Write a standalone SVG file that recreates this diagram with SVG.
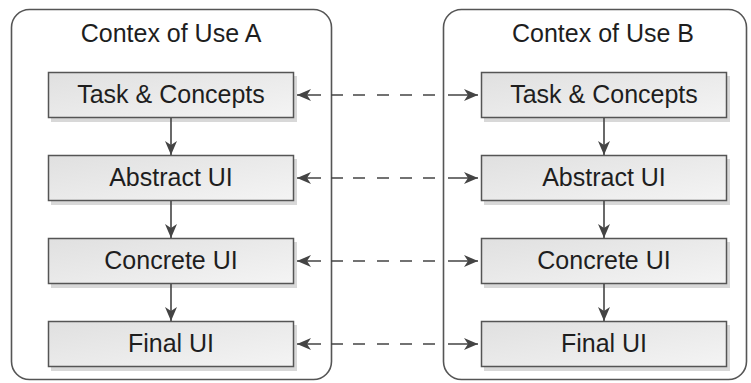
<svg xmlns="http://www.w3.org/2000/svg" width="751" height="383" viewBox="0 0 751 383">
<style>
.ctx{fill:#fff;stroke:#555;stroke-width:1.6}
.box{fill:url(#g);stroke:#555;stroke-width:1.5}
.sh{fill:#d8d8d8}
.t{font-family:"Liberation Sans",Arial,sans-serif;font-size:25px;fill:#1e1e1e;text-anchor:middle}
.v{stroke:#444;stroke-width:1.6;fill:none;marker-end:url(#ah)}
.h{stroke:#444;stroke-width:1.6;fill:none;stroke-dasharray:24 10 12 10 12 12 12 11 12 11 12 13 30;marker-start:url(#ah2);marker-end:url(#ah)}
</style>
<defs>
<linearGradient id="g" x1="0" y1="0" x2="1" y2="1">
<stop offset="0" stop-color="#e0e0e0"/>
<stop offset="1" stop-color="#f4f4f4"/>
</linearGradient>
<marker id="ah" viewBox="0 0 14 12" refX="14" refY="6" markerWidth="14" markerHeight="12" markerUnits="userSpaceOnUse" orient="auto">
<path d="M0,0 L14,6 L0,12 L4,6 Z" fill="#444"/>
</marker>
<marker id="ah2" viewBox="0 0 14 12" refX="0" refY="6" markerWidth="14" markerHeight="12" markerUnits="userSpaceOnUse" orient="auto">
<path d="M14,0 L0,6 L14,12 L10,6 Z" fill="#444"/>
</marker>
</defs>
<g id="contextA">
<rect class="ctx" x="11.5" y="9.5" width="320" height="370" rx="18"/>
<text class="t" x="171" y="42">Contex of Use A</text>
</g>
<g id="contextB">
<rect class="ctx" x="443.5" y="9.5" width="303" height="370" rx="18"/>
<text class="t" x="603" y="42">Contex of Use B</text>
</g>
<g id="a1"><rect class="sh" x="51" y="76" width="246" height="46"/><rect class="box" x="48.5" y="72.5" width="245" height="45"/><text class="t" x="171" y="103">Task &amp; Concepts</text></g>
<g id="a2"><rect class="sh" x="51" y="159" width="246" height="46"/><rect class="box" x="48.5" y="155.5" width="245" height="45"/><text class="t" x="171" y="186">Abstract UI</text></g>
<g id="a3"><rect class="sh" x="51" y="242" width="246" height="46"/><rect class="box" x="48.5" y="238.5" width="245" height="45"/><text class="t" x="171" y="269">Concrete UI</text></g>
<g id="a4"><rect class="sh" x="51" y="325" width="246" height="46"/><rect class="box" x="48.5" y="321.5" width="245" height="45"/><text class="t" x="171" y="352">Final UI</text></g>
<g id="b1"><rect class="sh" x="484" y="76" width="246" height="46"/><rect class="box" x="481.5" y="72.5" width="245" height="45"/><text class="t" x="604" y="103">Task &amp; Concepts</text></g>
<g id="b2"><rect class="sh" x="484" y="159" width="246" height="46"/><rect class="box" x="481.5" y="155.5" width="245" height="45"/><text class="t" x="604" y="186">Abstract UI</text></g>
<g id="b3"><rect class="sh" x="484" y="242" width="246" height="46"/><rect class="box" x="481.5" y="238.5" width="245" height="45"/><text class="t" x="604" y="269">Concrete UI</text></g>
<g id="b4"><rect class="sh" x="484" y="325" width="246" height="46"/><rect class="box" x="481.5" y="321.5" width="245" height="45"/><text class="t" x="604" y="352">Final UI</text></g>
<g id="connectors">
<path class="v" d="M171,118 V155"/>
<path class="v" d="M171,201 V238"/>
<path class="v" d="M171,284 V321"/>
<path class="v" d="M604,118 V155"/>
<path class="v" d="M604,201 V238"/>
<path class="v" d="M604,284 V321"/>
<path class="h" d="M297,95 H478"/>
<path class="h" d="M297,178 H478"/>
<path class="h" d="M297,261 H478"/>
<path class="h" d="M297,344 H478"/>
</g>
</svg>
